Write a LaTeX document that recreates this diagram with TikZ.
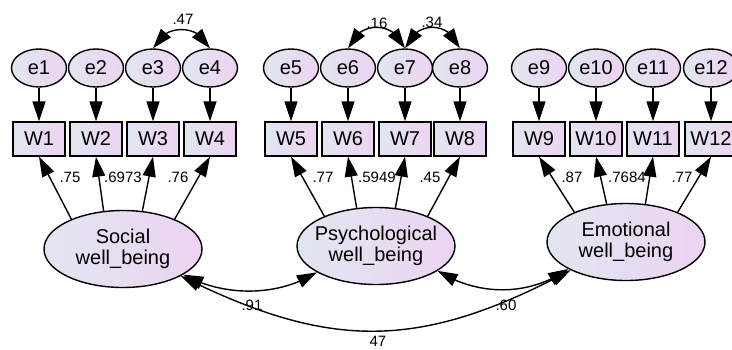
\documentclass[tikz,border=0pt]{standalone}
\usepackage{fontspec}
\setmainfont{Liberation Sans}
\usetikzlibrary{arrows.meta,bending,shapes.geometric}

\definecolor{fillL}{RGB}{226,230,240}
\definecolor{fillR}{RGB}{236,212,242}

\tikzset{
    varfill/.style={draw, line width=1.4pt, left color=fillL, right color=fillR},
    errvar/.style={varfill, ellipse, minimum width=55pt, minimum height=38pt, inner sep=0pt,
        font=\fontsize{20}{21}\selectfont},
    obsvar/.style={varfill, rectangle, minimum width=52pt, minimum height=34pt, inner sep=0pt,
        font=\fontsize{20}{21}\selectfont},
    latvar/.style={varfill, ellipse, minimum width=158pt, minimum height=77pt, inner sep=-10pt,
        align=center, font=\fontsize{20}{21}\selectfont},
    coef/.style={inner sep=0pt, font=\fontsize{15}{15}\selectfont},
    reg/.style={-{Triangle[length=20pt,width=13pt]}, line width=1.4pt},
    cov/.style={{Triangle[length=20pt,width=13pt]}-{Triangle[length=20pt,width=13pt]}, line width=1.4pt}
}

\begin{document}
\begin{tikzpicture}[x=1pt, y=-1pt]
    \clip (0, 0) rectangle (732, 349);

    % Error terms and items
    \foreach \i/\x in {1/39, 2/96, 3/153, 4/210, 5/291, 6/348, 7/405, 8/460, 9/539, 10/596, 11/653, 12/711} {
        \node[errvar] (e\i) at (\x, 68) {e\i};
        \node[obsvar] (W\i) at (\x, 139) {W\i};
        \draw[reg] (e\i) -- (W\i);
    }

    % Latent factors
    \node[latvar] (soc) at (123, 249) {Social\\well\_being};
    \node[latvar] (psy) at (376, 246) {Psychological\\well\_being};
    \node[latvar] (emo) at (626, 242) {Emotional\\well\_being};

    % Loadings
    \foreach \f/\a/\b/\c/\d in {soc/1/2/3/4, psy/5/6/7/8, emo/9/10/11/12} {
        \draw[reg] (\f.150) -- (W\a.south);
        \draw[reg] (\f.117) -- (W\b.south);
        \draw[reg] (\f.63) -- (W\c.south);
        \draw[reg] (\f.30) -- (W\d.south);
    }
    \foreach \n/\t/\x in {1/.75/70, 2/.6973/123, 3/.76/178, 4/.77/323, 5/.5949/377, 6/.45/430,
                          7/.87/572, 8/.7684/627, 9/.77/682} {
        \node[coef] (k\n) at (\x, 177) {\t};
    }

    % Error covariances
    \draw[cov] (e3.north) .. controls +(10, -25) and +(-10, -25) .. (e4.north);
    \draw[cov] (e6.north) .. controls +(10, -28) and +(-10, -28) .. (e7.north);
    \draw[cov] (e7.north) .. controls +(10, -28) and +(-10, -28) .. (e8.north);
    \node[coef] (c34) at (183, 19) {.47};
    \node[coef] (c67) at (377, 23) {.16};
    \node[coef] (c78) at (432, 22) {.34};

    % Factor covariances
    \draw[cov] (soc.-23) .. controls +(40, 22) and +(-40, 25) .. (psy.204);
    \draw[cov] (psy.-22) .. controls +(40, 25) and +(-40, 28) .. (emo.205);
    \draw[cov] (soc.-25) .. controls +(150, 75) and +(-150, 80) .. (emo.207);
    \node[coef] (sp) at (252, 305) {.91};
    \node[coef] (pe) at (506, 305) {.60};
    \node[coef] (se) at (378, 341) {47};
\end{tikzpicture}
\end{document}
